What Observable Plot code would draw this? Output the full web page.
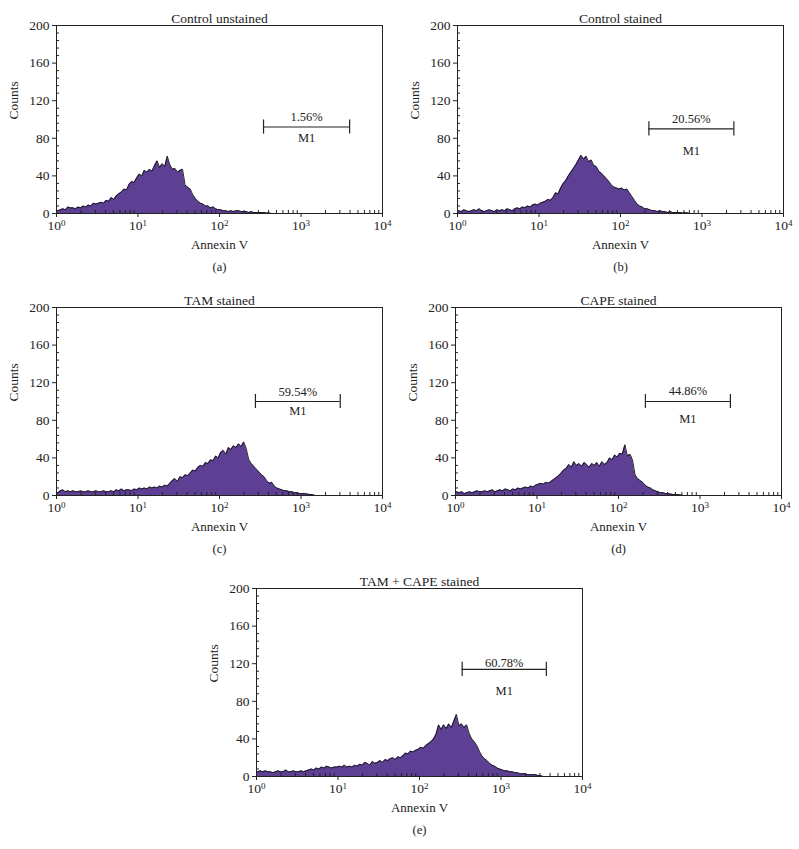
<!DOCTYPE html>
<html><head><meta charset="utf-8">
<script src="https://cdn.jsdelivr.net/npm/d3@7"></script>
<script src="https://cdn.jsdelivr.net/npm/@observablehq/plot@0.6"></script>
<style>
body{margin:0;background:#fff;}
#page{position:relative;width:799px;height:849px;background:#fff;overflow:hidden;}
.panel{position:absolute;}
</style></head><body><div id="page"></div>
<script>
// ---- data ----
const titles = ["Control unstained", "Control stained", "TAM stained", "CAPE stained", "TAM + CAPE stained"];
const captions = ["(a)", "(b)", "(c)", "(d)", "(e)"];
const percents = ["1.56%", "20.56%", "59.54%", "44.86%", "60.78%"];
const markerName = "M1";
const gateLow = [347, 223, 276, 214, 334];
const gateHigh = [3950, 2460, 3030, 2360, 3600];
const gateLevel = [92, 90, 100, 100, 114];
const pctLevel = [103, 101, 110, 111, 121];
const m1Level = [80, 67, 90, 81, 91];
const xLabel = "Annexin V";
const yLabel = "Counts";
const binsPerDecade = 32; // histogram channels per log decade (bin index -> 10^(i/32))

const countsA = [3,4,5,4,7,6,6,5,7,6,8,7,9,8,11,10,11,12,11,14,13,17,15,19,21,23,26,25,31,34,33,38,
  42,40,46,44,47,45,51,56,49,53,50,61,52,47,48,44,46,47,30,28,26,20,16,13,11,10,8,8,6,7,5,4,
  4,3,3,2,3,2,3,3,2,2,2,1,2,1,1,1,1,1,0.5,0.5];
const countsB = [3,2,4,3,2,3,4,3,5,3,2,3,4,3,2,4,3,4,3,5,4,3,5,6,5,7,6,8,7,9,10,9,
  11,12,13,15,14,17,22,21,27,32,35,40,44,48,52,57,62,58,61,55,57,51,50,45,43,40,37,34,30,28,27,26,
  27,25,26,22,18,14,10,8,7,5,5,4,3,3,2,3,2,2,1,2,1,1,1,1,0.5,1,0.5];
const countsC = [3,5,6,4,5,4,5,4,4,5,4,4,5,4,4,5,4,4,5,4,4,5,4,6,5,7,5,6,6,5,7,6,
  8,7,8,7,9,8,9,8,10,9,11,10,13,16,18,15,20,19,22,21,24,27,26,30,32,31,35,34,38,37,42,40,
  46,48,44,51,49,53,51,55,52,57,50,38,34,31,28,25,22,20,16,13,14,10,8,7,6,5,5,4,4,3,3,2,
  2,2,1.5,1,1];
const countsD = [4,3,4,2,3,4,3,4,5,4,4,5,4,5,6,4,5,6,5,7,6,5,7,6,8,7,8,9,8,10,9,11,
  12,13,12,14,13,15,17,19,21,24,27,29,33,30,36,32,34,31,35,33,30,34,32,35,31,36,33,35,40,38,43,41,
  45,44,54,42,44,38,22,18,16,14,11,9,8,6,5,4,3,3,2,2,1.5,1,1,1,0.5];
const countsE = [5,6,5,6,5,5,4,5,6,5,5,7,5,5,6,5,5,6,5,6,7,8,7,9,8,10,9,11,10,9,10,10,
  11,10,12,10,11,10,12,11,13,12,15,14,12,16,14,15,17,15,18,17,19,20,18,21,20,22,25,24,27,26,28,29,
  31,30,33,35,37,40,45,55,50,55,51,56,52,59,66,54,56,52,55,46,40,37,33,27,22,19,17,14,12,11,9,8,
  7,6,6,5,5,4,4,3,3,3,2,2,2,2,1,1];
const allCounts = [countsA, countsB, countsC, countsD, countsE];

const yMajorTicks = [0, 40, 80, 120, 160, 200];
const yMinorTicks = [8,16,24,32,48,56,64,72,88,96,104,112,128,136,144,152,168,176,184,192];
const xMajorTicks = [1, 10, 100, 1000, 10000];
const xMajorExponents = ["0", "1", "2", "3", "4"];
const xMinorTicks = [2,3,4,5,6,7,8,9,20,30,40,50,60,70,80,90,200,300,400,500,600,700,800,900,2000,3000,4000,5000,6000,7000,8000,9000];

// ---- layout ----
const placements = [[0, 0], [401, 0], [0, 282], [399, 282], [200, 563]];
const ink = "#222";
const fillColor = "#5d3f93";

function panel(i) {
  const counts = allCounts[i];
  const n = counts.length;
  const bins = counts.map((c, j) => ({x: Math.pow(10, (j + 0.5) / binsPerDecade), y: c}));
  bins.unshift({x: 1, y: counts[0]});
  bins.push({x: Math.pow(10, (n + 0.5) / binsPerDecade), y: 0});
  const gate = [{lo: gateLow[i], hi: gateHigh[i], level: gateLevel[i], pct: pctLevel[i], m1: m1Level[i], label: percents[i]}];
  const mid = d => Math.sqrt(d.lo * d.hi);
  const w = i === 1 ? 398 : 400;
  const svg = Plot.plot({
    width: w, height: 280,
    marginLeft: 56, marginRight: w === 398 ? 16 : 18, marginTop: 25, marginBottom: 67,
    x: {type: "log", domain: [1, 1e4]},
    y: {domain: [0, 200]},
    style: {fontFamily: "'Liberation Serif', 'DejaVu Serif', serif", fontSize: "12px", color: ink, background: "white", overflow: "visible"},
    marks: [
      Plot.areaY(bins, {x: "x", y: "y", curve: "linear", fill: fillColor}),
      Plot.lineY(bins, {x: "x", y: "y", curve: "linear", stroke: "#111", strokeWidth: 0.9}),
      Plot.frame({stroke: ink, strokeWidth: 1}),
      Plot.axisY({ticks: yMajorTicks, tickSize: 4, tickPadding: 3, label: null, fontSize: 13.5}),
      Plot.axisY({ticks: yMinorTicks, tickSize: -3, tickFormat: () => "", label: null}),
      Plot.axisX({ticks: xMajorTicks, tickSize: 4, tickPadding: 3, label: null, fontSize: 13.5,
        tickFormat: d => "10^" + xMajorExponents[xMajorTicks.indexOf(d)]}),
      Plot.axisX({ticks: xMinorTicks, tickSize: -3, tickFormat: () => "", label: null}),
      Plot.ruleY(gate, {y: "level", x1: "lo", x2: "hi", stroke: ink, strokeWidth: 1.2}),
      Plot.ruleX(gate, {x: "lo", y1: d => d.level - 7.5, y2: d => d.level + 7.5, stroke: ink, strokeWidth: 1.2}),
      Plot.ruleX(gate, {x: "hi", y1: d => d.level - 7.5, y2: d => d.level + 7.5, stroke: ink, strokeWidth: 1.2}),
      Plot.text(gate, {x: mid, y: "pct", text: "label", fontSize: 12.5, fill: ink}),
      Plot.text(gate, {x: mid, y: "m1", text: () => markerName, fontSize: 12.5, fill: ink}),
      Plot.text([titles[i]], {frameAnchor: "top", dy: -12, fontSize: 13.5, fill: ink}),
      Plot.text([xLabel], {frameAnchor: "bottom", dy: 35, fontSize: 13, fill: ink}),
      Plot.text([captions[i]], {frameAnchor: "bottom", dy: 57, fontSize: 12.5, fill: ink}),
      Plot.text([yLabel], {frameAnchor: "left", dx: -43, rotate: -90, fontSize: 13.5, fill: ink})
    ]
  });
  // render "10^k" tick labels with a real superscript
  svg.querySelectorAll("text").forEach(t => {
    const s = t.textContent;
    const m = /^10\^(\d)$/.exec(s);
    if (!m) return;
    t.textContent = "10";
    const sup = document.createElementNS("http://www.w3.org/2000/svg", "tspan");
    sup.setAttribute("dy", "-0.45em");
    sup.setAttribute("font-size", "9");
    sup.textContent = m[1];
    t.appendChild(sup);
  });
  const div = document.createElement("div");
  div.className = "panel";
  div.style.left = placements[i][0] + "px";
  div.style.top = placements[i][1] + "px";
  div.appendChild(svg);
  document.getElementById("page").appendChild(div);
}
for (let i = 0; i < 5; i++) panel(i);
</script>
</body></html>
